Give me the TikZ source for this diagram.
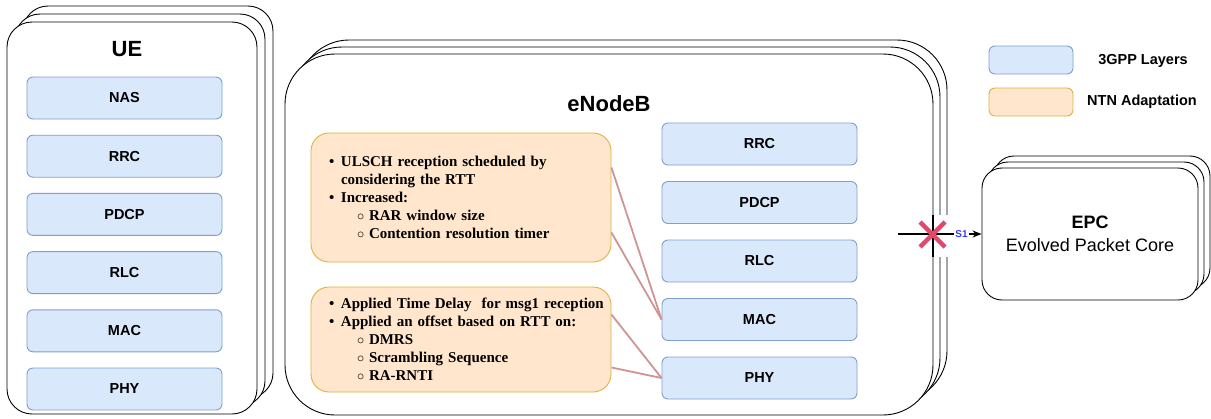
\documentclass[tikz,border=0pt]{standalone}
\usepackage{fontspec}
\setmainfont{Liberation Serif}
\setsansfont{Liberation Sans}
\usetikzlibrary{positioning,arrows.meta}

\definecolor{layerfill}{HTML}{DAE8FC}
\definecolor{layerdraw}{HTML}{7F9FCC}
\definecolor{ntnfill}{HTML}{FFE6CC}
\definecolor{ntndraw}{HTML}{E2B040}
\definecolor{linkred}{HTML}{CF9595}
\definecolor{crossred}{HTML}{E5476A}
\definecolor{sblue}{HTML}{3B3BFF}

% the two copies behind a front box: centre x, centre y, width, height, radius, offset
\newcommand{\backstack}[6]{
	\foreach \k in {2,1}
		\draw[stack, rounded corners=#5] (#1-#3/2+\k*#6, #2-#4/2-\k*#6) rectangle ++(#3,#4);
}

% list lines for the NTN boxes
\newcommand{\bitem}[1]{\hspace*{18pt}\makebox[12pt][l]{\textbullet}#1}
\newcommand{\bcont}[1]{\hspace*{30pt}#1}
\newcommand{\bsub}[1]{\hspace*{46pt}\makebox[12pt][l]{$\circ$}#1}

\begin{document}
\begin{tikzpicture}[x=1pt, y=-1pt,
	stack/.style={draw, fill=white, line width=0.9pt},
	layer/.style={draw=layerdraw, fill=layerfill, rounded corners=6pt, line width=0.9pt, minimum width=195pt, minimum height=42pt, font=\sffamily\bfseries\fontsize{14.5}{16}\selectfont},
	ntnbox/.style={draw=ntndraw, fill=ntnfill, rounded corners=18pt, line width=0.9pt},
	link/.style={draw=linkred, line width=1.8pt},
	title/.style={font=\sffamily\bfseries\fontsize{22}{26}\selectfont},
	legtext/.style={font=\sffamily\bfseries\fontsize{14.5}{17}\selectfont},
	node distance=15.3pt]
	\useasboundingbox (0,0) rectangle (1211,418);

	% UE
	\backstack{132}{218}{250}{392}{25pt}{8}
	\node[stack, rounded corners=25pt, minimum width=250pt, minimum height=392pt] (ue) at (132,218) {};
	\node[title] (uetitle) at (127,49) {UE};
	\node[layer] (uenas) at (124.5,98) {NAS};
	\node[layer, below=of uenas] (uerrc) {RRC};
	\node[layer, below=of uerrc] (uepdcp) {PDCP};
	\node[layer, below=of uepdcp] (uerlc) {RLC};
	\node[layer, below=of uerlc] (uemac) {MAC};
	\node[layer, below=of uemac] (uephy) {PHY};

	% eNodeB
	\backstack{609}{234.5}{648}{361}{50pt}{7}
	\node[stack, rounded corners=50pt, minimum width=648pt, minimum height=361pt] (enb) at (609,234.5) {};
	\node[title] (enbtitle) at (609,104) {eNodeB};
	\node[layer] (enbrrc) at (759.5,144) {RRC};
	\node[layer, below=15.6pt of enbrrc] (enbpdcp) {PDCP};
	\node[layer, below=15.6pt of enbpdcp] (enbrlc) {RLC};
	\node[layer, below=15.6pt of enbrlc] (enbmac) {MAC};
	\node[layer, below=15.6pt of enbmac] (enbphy) {PHY};

	\node[ntnbox, minimum height=129pt, inner sep=0pt, text width=300pt, align=left, font=\bfseries\fontsize{15}{18}\selectfont] (adapt1) at (461,197.5) {
		\bitem{ULSCH reception scheduled by}\\
		\bcont{considering the RTT}\\
		\bitem{Increased:}\\
		\bsub{RAR window size}\\
		\bsub{Contention resolution timer}};
	\node[ntnbox, minimum height=105pt, inner sep=0pt, text width=300pt, align=left, font=\bfseries\fontsize{15}{18}\selectfont] (adapt2) at (461,339.5) {
		\bitem{Applied Time Delay\ \ for msg1 reception}\\
		\bitem{Applied an offset based on RTT on:}\\
		\bsub{DMRS}\\
		\bsub{Scrambling Sequence}\\
		\bsub{RA-RNTI}};

	\draw[link] ([yshift=30pt]adapt1.east) -- (enbmac.west);
	\draw[link] ([yshift=-35pt]adapt1.east) -- (enbmac.west);
	\draw[link] ([yshift=25pt]adapt2.east) -- (enbphy.west);
	\draw[link] ([yshift=-28pt]adapt2.east) -- (enbphy.west);

	% EPC
	\backstack{1090}{234}{216}{132}{20pt}{6}
	\node[stack, rounded corners=20pt, minimum width=216pt, minimum height=132pt, align=center, font=\sffamily\fontsize{18}{23}\selectfont] (epc) at (1090,234) {{\bfseries EPC}\\Evolved Packet Core};

	% S1 link, cut
	\fill[white] (936,215) rectangle (951,257);
	\draw[line width=2pt] (933,215) -- (933,257);
	\coordinate (s1tail) at (898,234);
	\draw[-{Stealth[length=9pt,width=7pt]}, line width=1.4pt] (s1tail) -- (epc.west)
		node[pos=0.76, fill=white, inner sep=1pt, text=sblue, font=\sffamily\bfseries\fontsize{10}{11}\selectfont] (s1label) {S1};
	\draw[crossred, line width=4.5pt] (920,222) -- (945,247) (920,247) -- (945,222);

	% legend
	\node[layer, minimum width=84pt, minimum height=28pt] (leglayer) at (1031,60) {};
	\node[ntnbox, rounded corners=6pt, minimum width=84pt, minimum height=28pt] (legntn) at (1031,102) {};
	\node[legtext] (leglayertext) at (1143,61) {3GPP Layers};
	\node[legtext] (legntntext) at (1142,102) {NTN Adaptation};
\end{tikzpicture}
\end{document}
